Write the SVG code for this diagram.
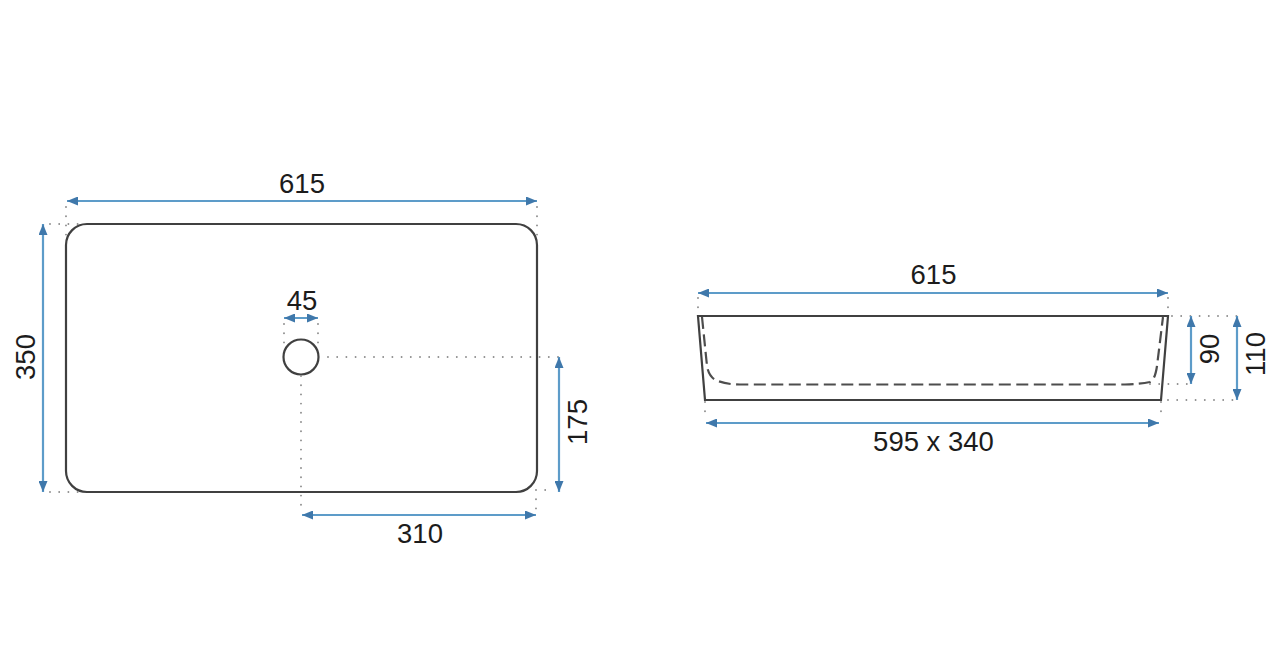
<svg xmlns="http://www.w3.org/2000/svg" width="1280" height="662" viewBox="0 0 1280 662">
<style>
.o{fill:none;stroke:#404040;stroke-width:2.2}
.d{fill:none;stroke:#4d4d4d;stroke-width:2.2;stroke-dasharray:12 5.5}
.g{fill:none;stroke:#8c8c8c;stroke-width:1.9;stroke-linecap:round;stroke-dasharray:0 9.2}
.a{fill:none;stroke:#5d9cc9;stroke-width:2.2;marker-start:url(#h);marker-end:url(#h)}
text{font-family:"Liberation Sans",Arial,sans-serif;font-size:27.5px;fill:#1c1c1c;text-anchor:middle}
</style>
<defs>
<marker id="h" viewBox="0 0 11 9" refX="11" refY="4.5" markerWidth="11" markerHeight="9" markerUnits="userSpaceOnUse" orient="auto-start-reverse"><path d="M0 0L11 4.5L0 9Z" fill="#3f78ab"/></marker>
</defs>
<rect width="1280" height="662" fill="#fff"/>
<g id="top-view">
<rect x="66" y="224" width="471" height="268" rx="21" ry="21" class="o"/>
</g>
<g id="drain">
<circle cx="301" cy="357" r="17.5" class="o"/>
</g>
<g id="side-view">
<path d="M698 316H1168L1161 400H705Z" class="o"/>
<path d="M702 317L707 366Q709 378 718 381Q727 384.500 740 384.500H1125Q1140 384 1150 382Q1155 380 1157 366L1163 317" class="d"/>
</g>
<g id="connectors">
<path d="M66 207V238M537 207V238M50 224H78M50 492H86M284 324V350M318 324V350M328 357H559M301 376V510M536 490H550M536 490V512M698 298V316M1168 298V316M705 402V420M1161 402V420M1172 316H1237M1150 384H1190M1168 400H1237" class="g"/>
<path d="M67 201H537" class="a"/>
<path d="M43 224V492" class="a"/>
<path d="M284 318H318" class="a"/>
<path d="M559 357V492" class="a"/>
<path d="M302 515H536" class="a"/>
<path d="M698 293H1168" class="a"/>
<path d="M706 423H1159" class="a"/>
<path d="M1191 316V384" class="a"/>
<path d="M1237 316V400" class="a"/>
</g>
<g id="labels">
<text x="302" y="193">615</text>
<text x="302" y="310">45</text>
<text x="420" y="543">310</text>
<text transform="translate(35 357) rotate(-90)">350</text>
<text transform="translate(587 422) rotate(-90)">175</text>
<text x="933.500" y="284">615</text>
<text x="933.500" y="451">595 x 340</text>
<text transform="translate(1219 349) rotate(-90)">90</text>
<text transform="translate(1265 354) rotate(-90)">110</text>
</g>
</svg>
